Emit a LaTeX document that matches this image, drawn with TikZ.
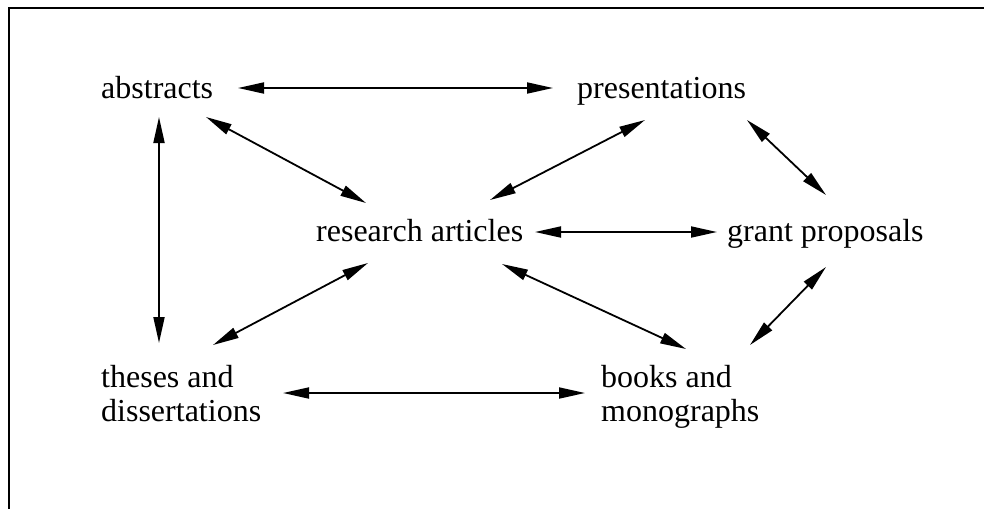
\documentclass[tikz,border=0pt]{standalone}
\usepackage{fontspec}
\setmainfont{Liberation Serif}
\usetikzlibrary{arrows.meta}
\begin{document}
\begin{tikzpicture}[x=1pt,y=-1pt,
  lbl/.style={inner sep=0pt,anchor=base west,font=\fontsize{32}{34}\selectfont,align=left},
  arr/.style={line width=1.8pt,{Triangle[length=26pt,width=11pt]}-{Triangle[length=26pt,width=11pt]}},
  frame/.style={line width=2pt}]
\useasboundingbox (0,0) rectangle (984,509);
\coordinate (tl) at (9,8);
\coordinate (tr) at (984,8);
\coordinate (bl) at (9,509);
\draw[frame] (tr) -- (tl) -- (bl);
\node[lbl] (abs) at (101,98) {abstracts};
\node[lbl] (pre) at (577,98) {presentations};
\node[lbl] (res) at (316,241) {research articles};
\node[lbl] (gra) at (727,241) {grant proposals};
\node[lbl] (the) at (101,421) {theses and\\dissertations};
\node[lbl] (boo) at (601,421) {books and\\monographs};
\draw[arr] ([shift={(137,-10)}]abs.base west) -- ([shift={(-24,-10)}]pre.base west);
\draw[arr] ([shift={(105,19)}]abs.base west) -- ([shift={(50,-38)}]res.base west);
\draw[arr] ([shift={(58,19)}]abs.base west) -- ([shift={(58,-78)}]the.base west);
\draw[arr] ([shift={(68,22)}]pre.base west) -- ([shift={(174,-41)}]res.base west);
\draw[arr] ([shift={(170,22)}]pre.base west) -- ([shift={(99,-46)}]gra.base west);
\draw[arr] ([shift={(219,-9)}]res.base west) -- ([shift={(-10,-9)}]gra.base west);
\draw[arr] ([shift={(52,22)}]res.base west) -- ([shift={(112,-76)}]the.base west);
\draw[arr] ([shift={(186,23)}]res.base west) -- ([shift={(85,-72)}]boo.base west);
\draw[arr] ([shift={(99,26)}]gra.base west) -- ([shift={(149,-76)}]boo.base west);
\draw[arr] ([shift={(182,-28)}]the.base west) -- ([shift={(-16,-28)}]boo.base west);
\end{tikzpicture}
\end{document}
